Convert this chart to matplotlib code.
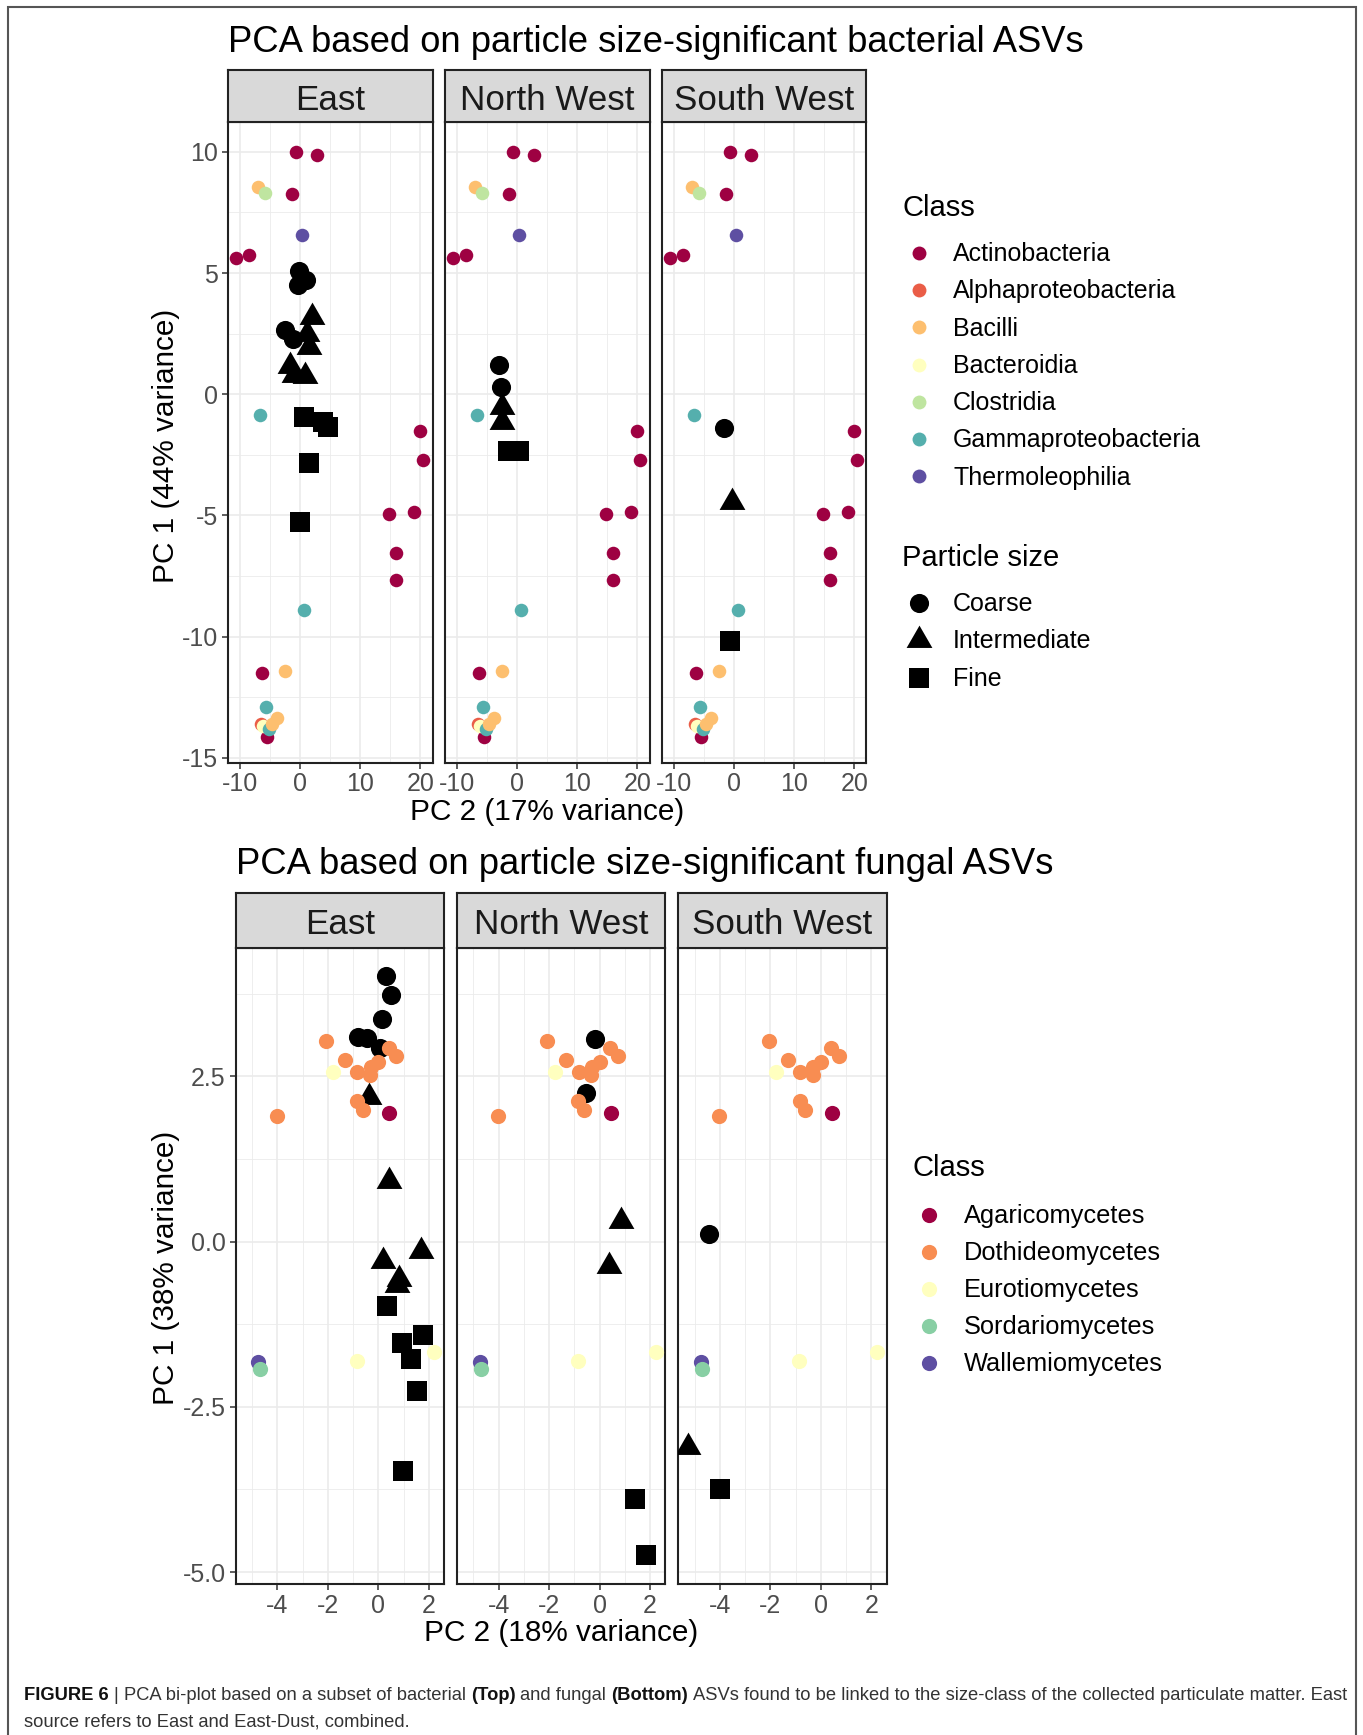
import matplotlib
matplotlib.use("Agg")
import matplotlib.pyplot as plt

W, H = 1363, 1735
plt.rcParams['font.family'] = ['Liberation Sans', 'DejaVu Sans']
plt.rcParams['axes.unicode_minus'] = False

regions = ["East", "North West", "South West"]
sizes = ["Coarse", "Intermediate", "Fine"]

# ---- bacterial PCA ----
bac_classes = ["Actinobacteria", "Alphaproteobacteria", "Bacilli", "Bacteroidia",
               "Clostridia", "Gammaproteobacteria", "Thermoleophilia"]
bac_colors = ["#9E0142", "#EA5D47", "#FDBF6F", "#FFFFBF", "#BFE5A0", "#55AFAD", "#5E4FA2"]
bac_draw_order = ["Actinobacteria", "Alphaproteobacteria", "Bacteroidia", "Gammaproteobacteria",
                  "Bacilli", "Clostridia", "Thermoleophilia"]

# ASV loadings (shown in every facet)
bac_asv_class = (["Actinobacteria"] * 13 + ["Bacilli"] * 4 + ["Clostridia"] + ["Thermoleophilia"]
                 + ["Gammaproteobacteria"] * 4 + ["Bacteroidia"] + ["Alphaproteobacteria"])
bac_asv_x = [-0.7, 2.8, -1.3, -10.7, -8.5, 19.9, 20.4, 14.7, 19.0, 16.0, 16.0, -6.3, -5.5,
             -7.0, -2.6, -3.9, -4.7,
             -5.8,
             0.35,
             -6.7, 0.6, -5.6, -5.25,
             -6.2,
             -6.5]
bac_asv_y = [10.0, 9.85, 8.25, 5.6, 5.75, -1.5, -2.7, -4.95, -4.85, -6.55, -7.65, -11.5, -14.15,
             8.55, -11.4, -13.35, -13.6,
             8.3,
             6.55,
             -0.85, -8.9, -12.9, -13.8,
             -13.7,
             -13.6]

# samples
bac_smp_region = (["East"] * 16 + ["North West"] * 6 + ["South West"] * 3)
bac_smp_size = (["Coarse"] * 5 + ["Intermediate"] * 6 + ["Fine"] * 5
                + ["Coarse"] * 2 + ["Intermediate"] * 2 + ["Fine"] * 2
                + ["Coarse", "Intermediate", "Fine"])
bac_smp_x = [-0.2, -0.4, 1.0, -2.6, -1.2,
             2.0, 1.1, 1.44, -1.77, -1.1, 0.88,
             0.6, 3.76, 4.6, 1.44, -0.1,
             -2.94, -2.77,
             -2.5, -2.6,
             -1.6, 0.35,
             -1.7, -0.28, -0.66]
bac_smp_y = [5.08, 4.49, 4.72, 2.64, 2.26,
             3.2, 2.47, 1.95, 1.18, 0.8, 0.77,
             -0.93, -1.14, -1.35, -2.83, -5.26,
             1.21, 0.28,
             -0.51, -1.14,
             -2.33, -2.33,
             -1.38, -4.45, -10.19]

# ---- fungal PCA ----
fun_classes = ["Agaricomycetes", "Dothideomycetes", "Eurotiomycetes", "Sordariomycetes", "Wallemiomycetes"]
fun_colors = ["#9E0142", "#F88D52", "#FFFFBF", "#88CFA4", "#5E4FA2"]
fun_draw_order = ["Agaricomycetes", "Dothideomycetes", "Eurotiomycetes", "Wallemiomycetes", "Sordariomycetes"]

fun_asv_class = (["Agaricomycetes"] + ["Dothideomycetes"] * 11 + ["Eurotiomycetes"] * 3
                 + ["Sordariomycetes"] + ["Wallemiomycetes"])
fun_asv_x = [0.43,
             -2.07, 0.41, 0.71, -1.32, 0.0, -0.3, -0.83, -0.33, -0.84, -0.62, -4.02,
             -1.78, -0.86, 2.22,
             -4.70,
             -4.76]
fun_asv_y = [1.95,
             3.03, 2.92, 2.80, 2.75, 2.71, 2.64, 2.57, 2.52, 2.12, 1.99, 1.90,
             2.57, -1.80, -1.67,
             -1.93,
             -1.82]

fun_smp_region = (["East"] * 18 + ["North West"] * 6 + ["South West"] * 3)
fun_smp_size = (["Coarse"] * 6 + ["Intermediate"] * 6 + ["Fine"] * 6
                + ["Coarse"] * 2 + ["Intermediate"] * 2 + ["Fine"] * 2
                + ["Coarse", "Intermediate", "Fine"])
fun_smp_x = [0.30, 0.49, 0.16, -0.80, -0.46, 0.06,
             -0.36, 0.43, 1.68, 0.17, 0.83, 0.75,
             0.35, 1.78, 0.92, 1.29, 1.52, 0.99,
             -0.2, -0.55,
             0.83, 0.35,
             1.40, 1.84,
             -4.43, -5.28, -4.0]
fun_smp_y = [4.01, 3.73, 3.36, 3.09, 3.08, 2.92,
             2.18, 0.91, -0.14, -0.29, -0.57, -0.65,
             -0.98, -1.41, -1.54, -1.78, -2.26, -3.47,
             3.06, 2.24,
             0.31, -0.37,
             -3.90, -4.74,
             0.12, -3.11, -3.74]

TRI = [(0, 1), (-0.866, -0.5), (0.866, -0.5)]
shape_marker = {"Coarse": "o", "Intermediate": TRI, "Fine": "s"}
shape_size = {"Coarse": 190, "Intermediate": 460, "Fine": 195}

fig = plt.figure(figsize=(W / 100, H / 100), dpi=100)


def box(left, top, right, bottom):
    return [left / W, 1 - bottom / H, (right - left) / W, (bottom - top) / H]


def fy(y):
    return 1 - y / H


def facet_row(lefts, width, strip_top, top, bottom, xlim, ylim, xmaj, xmin, ymaj, ymin,
              ylabels, asv, smp, classes, colors, order, dot):
    axes = []
    for i, reg in enumerate(regions):
        l = lefts[i]
        ax = fig.add_axes(box(l, top, l + width, bottom))
        ax.set_xticks(xmaj)
        ax.set_xticks(xmin, minor=True)
        ax.set_yticks(ymaj)
        ax.set_yticks(ymin, minor=True)
        # limits after ticks, otherwise off-panel minor ticks widen the view
        ax.set_xlim(xlim)
        ax.set_ylim(ylim)
        ax.set_xticklabels([str(v) for v in xmaj])
        if i == 0:
            ax.set_yticklabels(ylabels)
        else:
            ax.set_yticklabels([])
        ax.grid(which="major", color="#EBEBEB", lw=1.2)
        ax.grid(which="minor", color="#EBEBEB", lw=0.6)
        ax.set_axisbelow(True)
        ax.tick_params(which="major", length=4, width=1.1, color="#333333",
                       labelsize=18, labelcolor="#4D4D4D", pad=3)
        ax.tick_params(which="minor", length=0)
        if i > 0:
            ax.tick_params(axis="y", length=0)
        for s in ax.spines.values():
            s.set_color("#222222")
            s.set_linewidth(1.5)

        # samples first, ASV loadings on top
        sx, sy, sreg, ssize = smp
        for sz in sizes:
            xs = [x for x, r, z in zip(sx, sreg, ssize) if r == reg and z == sz]
            ys = [y for y, r, z in zip(sy, sreg, ssize) if r == reg and z == sz]
            ax.scatter(xs, ys, marker=shape_marker[sz], s=shape_size[sz], c="black",
                       linewidths=0, zorder=3)
        ax_x, ax_y, ax_c = asv
        for cl in order:
            col = colors[classes.index(cl)]
            xs = [x for x, c in zip(ax_x, ax_c) if c == cl]
            ys = [y for y, c in zip(ax_y, ax_c) if c == cl]
            ax.scatter(xs, ys, s=dot, c=col, linewidths=0, zorder=4)

        st = fig.add_axes(box(l, strip_top, l + width, top))
        st.set_facecolor("#D9D9D9")
        st.set_xticks([])
        st.set_yticks([])
        for s in st.spines.values():
            s.set_color("#222222")
            s.set_linewidth(1.5)
        st.text(0.5, 0.42, reg, ha="center", va="center", fontsize=25.2, color="#1A1A1A",
                transform=st.transAxes)
        axes.append(ax)
    return axes


# top row: bacteria
facet_row([228, 445, 662], 204.5, 70, 122, 762.5,
          (-12.0, 22.0), (-15.19, 11.23),
          [-10, 0, 10, 20], [-15, -5, 5, 15],
          [-15, -10, -5, 0, 5, 10], [-12.5, -7.5, -2.5, 2.5, 7.5],
          ["-15", "-10", "-5", "0", "5", "10"],
          (bac_asv_x, bac_asv_y, bac_asv_class),
          (bac_smp_x, bac_smp_y, bac_smp_region, bac_smp_size),
          bac_classes, bac_colors, bac_draw_order, 95)

# bottom row: fungi
facet_row([235.5, 456.8, 678], 208.5, 893, 948, 1584,
          (-5.66, 2.6), (-5.18, 4.44),
          [-4, -2, 0, 2], [-5, -3, -1, 1],
          [-5.0, -2.5, 0.0, 2.5], [-3.75, -1.25, 1.25, 3.75],
          ["-5.0", "-2.5", "0.0", "2.5"],
          (fun_asv_x, fun_asv_y, fun_asv_class),
          (fun_smp_x, fun_smp_y, fun_smp_region, fun_smp_size),
          fun_classes, fun_colors, fun_draw_order, 120)

# titles and axis titles
fig.text(228 / W, fy(42), "PCA based on particle size-significant bacterial ASVs",
         fontsize=26.2, va="center", ha="left")
fig.text(235.5 / W, fy(864), "PCA based on particle size-significant fungal ASVs",
         fontsize=26.2, va="center", ha="left")
fig.text(166 / W, fy(446), "PC 1 (44% variance)", rotation=90, fontsize=21.4, va="center", ha="center")
fig.text(166 / W, fy(1268), "PC 1 (38% variance)", rotation=90, fontsize=21.4, va="center", ha="center")
fig.text(547 / W, fy(812), "PC 2 (17% variance)", fontsize=21.4, va="center", ha="center")
fig.text(561 / W, fy(1633), "PC 2 (18% variance)", fontsize=21.4, va="center", ha="center")

# legends drawn on a full-figure overlay in pixel units
lg = fig.add_axes([0, 0, 1, 1], facecolor="none")
lg.set_xlim(0, W)
lg.set_ylim(H, 0)
lg.axis("off")

lg.text(902, 208, "Class", fontsize=21, va="center", ha="left")
for i, (cl, col) in enumerate(zip(bac_classes, bac_colors)):
    yy = 253 + i * 37.25
    lg.scatter([919], [yy], s=100, c=col, linewidths=0)
    lg.text(953, yy + 1, cl, fontsize=18, va="center", ha="left")
lg.text(902, 558, "Particle size", fontsize=21, va="center", ha="left")
for i, sz in enumerate(sizes):
    yy = 603 + i * 37.4
    lg.scatter([919], [yy], marker=shape_marker[sz], s=shape_size[sz], c="black", linewidths=0)
    lg.text(953, yy + 1, sz, fontsize=18, va="center", ha="left")

lg.text(912, 1168, "Class", fontsize=21, va="center", ha="left")
for i, (cl, col) in enumerate(zip(fun_classes, fun_colors)):
    yy = 1215 + i * 37.1
    lg.scatter([929], [yy], s=120, c=col, linewidths=0)
    lg.text(964, yy + 1, cl, fontsize=18.3, va="center", ha="left")

# outer frame
lg.plot([8, 8, 1356, 1356], [H, 7, 7, H], color="#555555", lw=1.5, solid_joinstyle="miter")

# caption with bold runs
cap_font = ["Liberation Sans Narrow", "Liberation Sans"]
renderer = fig.canvas.get_renderer()


def caption_line(y, runs, size=13.2):
    x = 24
    probe1 = lg.text(0, 0, "x x", fontsize=size, family=cap_font)
    probe2 = lg.text(0, 0, "xx", fontsize=size, family=cap_font)
    space = probe1.get_window_extent(renderer).width - probe2.get_window_extent(renderer).width
    probe1.remove()
    probe2.remove()
    for txt, bold, col in runs:
        t = lg.text(x, y, txt, fontsize=size, family=cap_font, va="baseline", ha="left",
                    fontweight="bold" if bold else "normal", color=col)
        x += t.get_window_extent(renderer).width + space


caption_line(1700, [("FIGURE 6", True, "#111111"), ("|", False, "#333333"),
                    ("PCA bi-plot based on a subset of bacterial", False, "#333333"),
                    ("(Top)", True, "#111111"), ("and fungal", False, "#333333"),
                    ("(Bottom)", True, "#111111"),
                    ("ASVs found to be linked to the size-class of the collected particulate matter. East",
                     False, "#333333")])
caption_line(1726, [("source refers to East and East-Dust, combined.", False, "#333333")])

fig.savefig("out.png", dpi=100)
